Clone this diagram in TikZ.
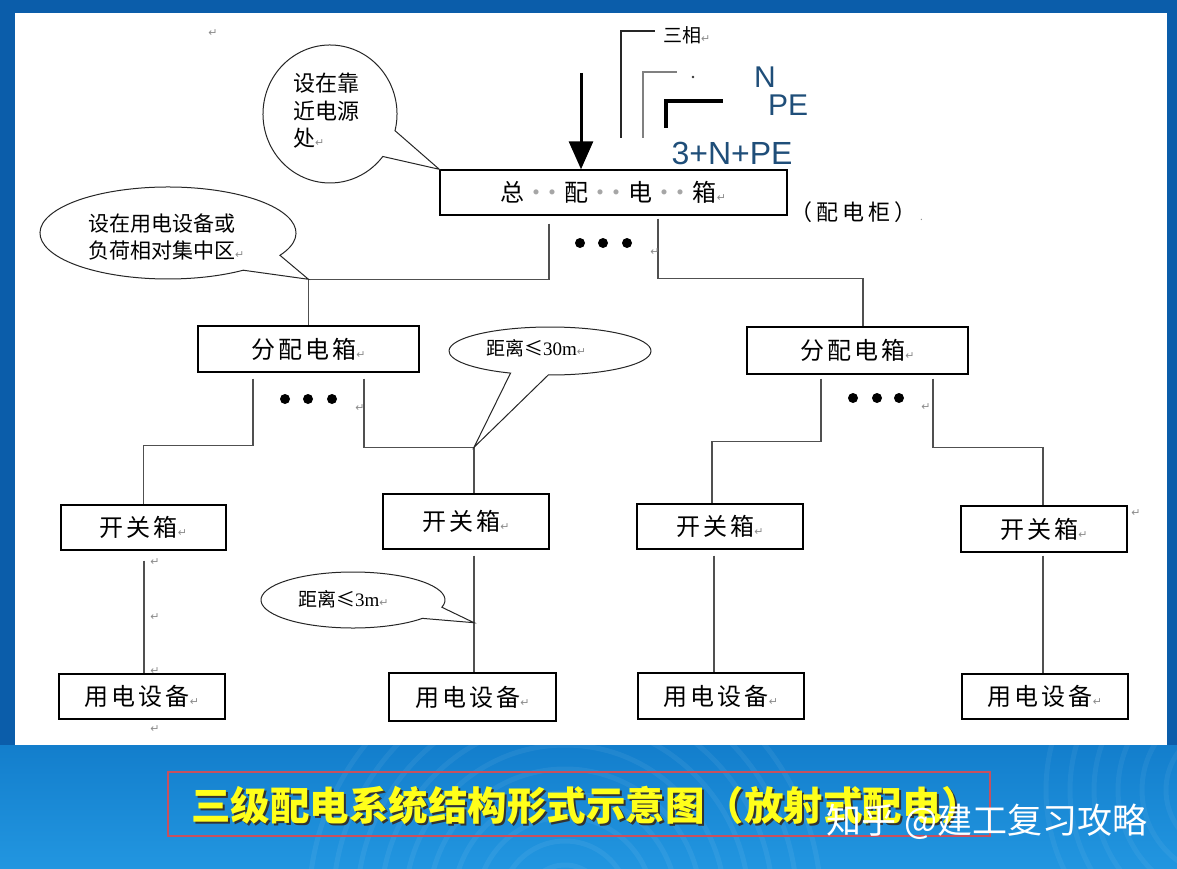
\documentclass[tikz,border=0pt]{standalone}
\usepackage{fontspec}
\setmainfont{Liberation Sans}
\newfontfamily\cjk{Noto Sans CJK SC}
\newfontfamily\symf{DejaVu Sans}
\newfontfamily\serifnum{Liberation Serif}
\usetikzlibrary{arrows.meta,calc}
\definecolor{bgtop}{HTML}{0B5DAA}
\definecolor{bgmid}{HTML}{137ECC}
\definecolor{bgbot}{HTML}{2296E0}
\definecolor{lbl}{HTML}{1F4E79}
\definecolor{wirec}{HTML}{505050}
\definecolor{retc}{HTML}{8C8C8C}
\definecolor{titlered}{HTML}{C8505E}
\definecolor{titleyel}{HTML}{FFFF1A}
\newcommand\ret{{\symf\fontsize{11}{11}\selectfont\color{retc}↵}}
\newcommand\sdot{\makebox[0pt]{\color{black!35}·}}
\newcommand\dgap{\makebox[40pt]{\hspace{12pt}\sdot\hspace{16pt}\sdot\hspace{12pt}}}
\newcommand\gp{\hspace{3pt}}
\begin{document}
\begin{tikzpicture}[x=1pt,y=1pt,
  box/.style={draw=black,line width=1.4pt,fill=white,inner sep=0pt,
    font=\cjk\fontsize{24}{24}\selectfont},
  wire/.style={draw=wirec,line width=1.6pt},
  callout/.style={draw=black!85,line width=1pt,fill=white},
  rmark/.style={inner sep=0pt,font=\symf\fontsize{11}{11}\selectfont,text=retc},
  dotm/.style={fill=black}
]
% background
\useasboundingbox (0,0) rectangle (1177,-869);
\fill[bgtop] (0,0) rectangle (1177,-760);
\shade[top color=bgmid,bottom color=bgbot] (0,-745) rectangle (1177,-869);
\begin{scope}
  \clip (0,-745) rectangle (1177,-869);
  \foreach \r in {40,64,...,260} {\draw[white,opacity=0.06,line width=5pt] (565,-905) circle (\r);}
  \foreach \r in {40,64,...,200} {\draw[white,opacity=0.05,line width=5pt] (1230,-790) circle (\r);}
\end{scope}
\fill[white] (15,-13) rectangle (1167,-745);

% boxes
\node[box,minimum width=347pt,minimum height=45pt] (zp) at (613.5,-192.5)
  {总\dgap 配\dgap 电\dgap 箱\ret};
\node[box,minimum width=221pt,minimum height=46pt] (fL) at (308.5,-349) {分\gp 配\gp 电\gp 箱\ret};
\node[box,minimum width=221pt,minimum height=47pt] (fR) at (857.5,-350.5) {分\gp 配\gp 电\gp 箱\ret};
\node[box,minimum width=165pt,minimum height=45pt] (k1) at (143.5,-527.5) {开\gp 关\gp 箱\ret};
\node[box,minimum width=166pt,minimum height=55pt] (k2) at (466,-521.5) {开\gp 关\gp 箱\ret};
\node[box,minimum width=166pt,minimum height=45pt] (k3) at (720,-526.5) {开\gp 关\gp 箱\ret};
\node[box,minimum width=166pt,minimum height=46pt] (k4) at (1044,-529) {开\gp 关\gp 箱\ret};
\node[box,minimum width=166pt,minimum height=45pt] (d1) at (142,-696.5) {用\gp 电\gp 设\gp 备\ret};
\node[box,minimum width=167pt,minimum height=48pt] (d2) at (472.5,-697) {用\gp 电\gp 设\gp 备\ret};
\node[box,minimum width=166pt,minimum height=46pt] (d3) at (721,-696) {用\gp 电\gp 设\gp 备\ret};
\node[box,minimum width=166pt,minimum height=45pt] (d4) at (1045,-696.5) {用\gp 电\gp 设\gp 备\ret};

% connectors
\draw[wire] ($(zp.south)+(-64.5,-8)$) |- ($(fL.north)+(0,46)$) -- (fL.north);
\draw[wire] ($(zp.south)+(44.5,-3)$) |- ($(fR.north)+(5.5,48)$) -- ($(fR.north)+(5.5,0)$);
\draw[wire] ($(fL.south)+(-55.5,-6)$) |- ($(k1.north)+(0,59)$) -- (k1.north);
\draw[wire] ($(fL.south)+(55.5,-6)$) |- ($(k2.north)+(8,46)$) -- ($(k2.north)+(8,0)$);
\draw[wire] ($(fR.south)+(-36.5,-4)$) |- ($(k3.north)+(-8,62)$) -- ($(k3.north)+(-8,0)$);
\draw[wire] ($(fR.south)+(75.5,-4)$) |- ($(k4.north)+(-1,58)$) -- ($(k4.north)+(-1,0)$);
\draw[wire] (k1.south) ++(0.5,-10) coordinate (v1) -- (v1 |- d1.north);
\draw[wire] (k2.south) ++(8,-6) coordinate (v2) -- (v2 |- d2.north);
\draw[wire] (k3.south) ++(-6,-6) coordinate (v3) -- (v3 |- d3.north);
\draw[wire] (k4.south) ++(-1,-3) coordinate (v4) -- (v4 |- d4.north);

% ellipsis dots
\foreach \x in {580,603,627} {\fill[dotm] (\x,-243) circle (5);}
\foreach \x in {285,308,332} {\fill[dotm] (\x,-399) circle (5);}
\foreach \x in {853,877,899} {\fill[dotm] (\x,-398) circle (5);}

% incoming supply
\coordinate (arrS) at (581,-73);
\draw[line width=3pt,-{Triangle[width=24pt,length=28pt]}] (arrS) -- (zp.north -| arrS);
\coordinate (l1s) at (621,-138); \coordinate (l1e) at (655,-31);
\coordinate (l2s) at (643,-138); \coordinate (l2e) at (677,-72);
\coordinate (l3s) at (666,-128); \coordinate (l3e) at (723,-101);
\draw[line width=2pt,black!85] (l1s) |- (l1e);
\draw[line width=1.3pt,black!50] (l2s) |- (l2e);
\draw[line width=3.5pt,black] (l3s) |- (l3e);
\fill[black!80] (693,-77) circle (1.3);
\node[anchor=west,inner sep=0pt,font=\cjk\fontsize{19}{19}\selectfont] (sx) at (663,-35) {三相\ret};
\node[inner sep=0pt,font=\fontsize{30}{30}\selectfont,text=lbl] (nN) at (765,-77.5) {N};
\node[inner sep=0pt,font=\fontsize{30}{30}\selectfont,text=lbl] (nPE) at (788,-105.5) {PE};
\node[inner sep=0pt,font=\fontsize{32}{32}\selectfont,text=lbl] (n3) at (732,-153.5) {3+N+PE};
\node[anchor=west,inner sep=0pt,font=\cjk\fontsize{22}{22}\selectfont] (pdg) at (790,-212)
  {（\hspace{4pt}配\hspace{4pt}电\hspace{4pt}柜\hspace{4pt}）\hspace{4pt}{\color{retc}\fontsize{10}{10}\selectfont .}};

% callouts
\path[callout] (330,-114) ++(-14:67pt and 69pt)
  arc[start angle=-14,end angle=322,x radius=67pt,y radius=69pt] -- (zp.north west) -- cycle;
\node[anchor=west,align=left,inner sep=0pt,font=\cjk\fontsize{22}{27.5}\selectfont] (c1) at (293,-111)
  {设在靠\\近电源\\处\ret};
\path[callout] (168,-233) ++(-29:128pt and 46pt)
  arc[start angle=-29,end angle=306,x radius=128pt,y radius=46pt] -- ($(fL.north)+(0,46)$) -- cycle;
\node[anchor=west,align=left,inner sep=0pt,font=\cjk\fontsize{21}{27}\selectfont] (c2) at (88,-237)
  {设在用电设备或\\负荷相对集中区\ret};
\path[callout] (550,-351) ++(-91:101pt and 24pt)
  arc[start angle=-91,end angle=247,x radius=101pt,y radius=24pt] -- ($(k2.north)+(8,46)$) -- cycle;
\node[anchor=west,inner sep=0pt,font=\cjk\fontsize{19}{19}\selectfont] (c3) at (486,-348)
  {距离≤{\serifnum 30m}\ret};
\path[callout] (353,-600) ++(-15:92pt and 28pt)
  arc[start angle=-15,end angle=319,x radius=92pt,y radius=28pt] -- ($(k2.south)+(8,-73)$) -- cycle;
\node[anchor=west,inner sep=0pt,font=\cjk\fontsize{19}{19}\selectfont] (c4) at (298,-599)
  {距离≤{\serifnum 3m}\ret};

% stray paragraph marks
\node[rmark] (r1) at (213,-33) {↵};
\node[rmark] (r2) at (655,-252) {↵};
\node[rmark] (r3) at (360,-408) {↵};
\node[rmark] (r4) at (926,-407) {↵};
\node[rmark] (r5) at (1136,-513) {↵};
\node[rmark] (r6) at (155,-562) {↵};
\node[rmark] (r7) at (155,-617) {↵};
\node[rmark] (r8) at (155,-671) {↵};
\node[rmark] (r9) at (155,-729) {↵};

% title
\draw[titlered,line width=2.5pt] (168,-772) rectangle (990,-836);
\node[font=\cjk\bfseries\fontsize{39.5}{39.5}\selectfont,text=black!80] (titsh) at (588,-807.5)
  {三级配电系统结构形式示意图（放射式配电）};
\node[font=\cjk\bfseries\fontsize{39.5}{39.5}\selectfont,text=titleyel] (title) at (586,-805.5)
  {三级配电系统结构形式示意图（放射式配电）};
\node[anchor=west,inner sep=0pt,font=\cjk\fontsize{35}{35}\selectfont,text=white] (wm) at (826,-822)
  {知乎 @建工复习攻略};
\end{tikzpicture}
\end{document}
